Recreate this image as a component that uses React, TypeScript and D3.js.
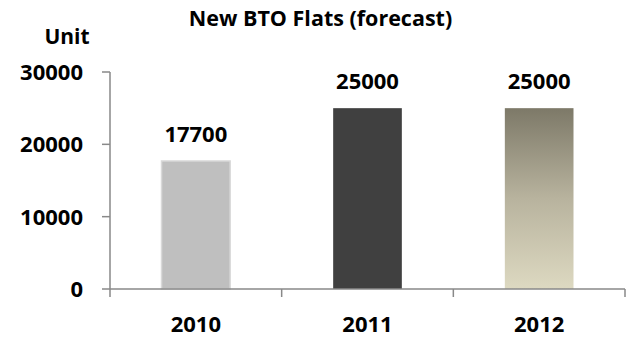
import React from "react";
import * as d3 from "d3";

const categories = ["2010", "2011", "2012"];
const values = [17700, 25000, 25000];
const yTicks = [0, 10000, 20000, 30000];
const title = "New BTO Flats (forecast)";
const yUnit = "Unit";

const W = 626;
const H = 337;
const FONT = "'Open Sans', sans-serif";

export default function App() {
  const x = d3.scaleBand<string>().domain(categories).range([110, 625]).padding(0);
  const y = d3.scaleLinear().domain([0, 30000]).range([289, 72]);
  const barW = x.bandwidth() * 0.4;
  const axisColor = "#898989";

  return (
    <svg
      width={W}
      height={H}
      style={{ position: "absolute", left: 0, top: 0, background: "#fff" }}
      fontFamily={FONT}
      fontWeight="bold"
    >
      <defs>
        <linearGradient id="g2012" x1="0" y1="0" x2="0" y2="1">
          <stop offset="0%" stopColor="#7d7968" />
          <stop offset="50%" stopColor="#b8b39e" />
          <stop offset="100%" stopColor="#ddd9c1" />
        </linearGradient>
      </defs>
      <text x={320.5} y={26} textAnchor="middle" fontSize={21.5} fill="#000">
        {title}
      </text>
      <text x={67} y={44} textAnchor="middle" fontSize={21} fill="#000">
        {yUnit}
      </text>
      {/* bars */}
      {categories.map((c, i) => {
        const cx = (x(c) as number) + x.bandwidth() / 2;
        const fill = i === 0 ? "#bfbfbf" : i === 1 ? "#404040" : "url(#g2012)";
        return (
          <g key={c}>
            <rect
              x={cx - barW / 2}
              y={y(values[i])}
              width={barW}
              height={y(0) - y(values[i])}
              fill={fill}
              stroke={i === 0 ? "#d9d9d9" : "none"}
              strokeWidth={i === 0 ? 1.5 : 0}
            />
            <text
              x={cx}
              y={y(values[i]) - 19}
              textAnchor="middle"
              fontSize={22}
              fill="#000"
            >
              {values[i]}
            </text>
            <text x={cx} y={332} textAnchor="middle" fontSize={22} fill="#000">
              {c}
            </text>
          </g>
        );
      })}
      {/* y axis */}
      <line x1={110} x2={110} y1={y(30000)} y2={y(0)} stroke={axisColor} strokeWidth={1.5} />
      {yTicks.map((t) => (
        <g key={t}>
          <line x1={102} x2={110} y1={y(t)} y2={y(t)} stroke={axisColor} strokeWidth={1.5} />
          <text x={83} y={y(t)} dy="0.36em" textAnchor="end" fontSize={22} fill="#000">
            {t}
          </text>
        </g>
      ))}
      {/* x axis */}
      <line x1={110} x2={625} y1={y(0)} y2={y(0)} stroke={axisColor} strokeWidth={1.5} />
      {[...categories.map((c) => x(c) as number), 625].map((px, i) => (
        <line key={i} x1={px} x2={px} y1={y(0)} y2={297} stroke={axisColor} strokeWidth={1.5} />
      ))}
    </svg>
  );
}
